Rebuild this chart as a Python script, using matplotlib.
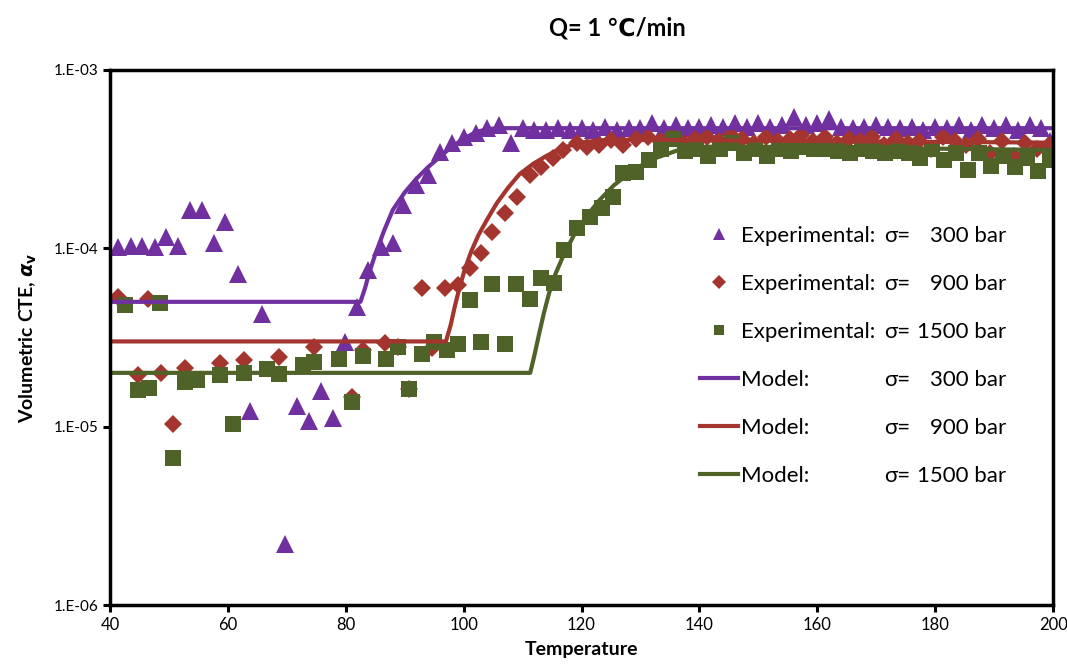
import matplotlib
matplotlib.use("Agg")
import matplotlib.pyplot as plt
from matplotlib.ticker import FixedLocator, FixedFormatter, NullLocator

plt.rcParams['font.family'] = ['Lato', 'DejaVu Sans']
plt.rcParams['mathtext.fontset'] = 'dejavusans'

# experimental, sigma = 300 bar
p_x = [41.4, 43.5, 45.5, 47.6, 49.6, 51.5, 53.6, 55.7, 57.6, 59.6, 61.7, 63.7, 65.8,
       69.7, 71.7, 73.7, 75.8, 77.8, 79.8, 81.9, 83.8, 86.0, 88.0, 89.8, 92.0, 94.0,
       96.0, 98.0, 100.1, 102.1,
       104, 106, 108, 110, 112, 114, 116, 118, 120, 122, 124, 126, 128, 130,
       132, 134, 136, 138, 140, 142, 144, 146, 148, 150, 152, 154, 156, 158, 160,
       162, 164, 166, 168, 170, 172, 174, 176, 178, 180, 182, 184, 186, 188, 190,
       192, 194, 196, 198, 199.5]
p_y = [1.01e-4, 1.03e-4, 1.03e-4, 1.01e-4, 1.15e-4, 1.03e-4, 1.63e-4, 1.63e-4, 1.07e-4,
       1.40e-4, 7.2e-5, 1.23e-5, 4.3e-5,
       2.2e-6, 1.31e-5, 1.07e-5, 1.59e-5, 1.11e-5, 2.96e-5, 4.7e-5, 7.5e-5, 1.01e-4,
       1.07e-4, 1.74e-4, 2.26e-4, 2.57e-4, 3.46e-4, 3.89e-4, 4.2e-4, 4.4e-4,
       4.7e-4, 4.9e-4, 3.9e-4, 4.7e-4, 4.6e-4, 4.6e-4, 4.7e-4, 4.6e-4,
       4.7e-4, 4.6e-4, 4.8e-4, 4.6e-4, 4.7e-4, 4.7e-4,
       5.0e-4, 4.7e-4, 4.9e-4, 4.7e-4, 4.8e-4, 4.9e-4, 4.8e-4, 5.0e-4, 4.8e-4, 5.0e-4,
       4.8e-4, 4.9e-4, 5.4e-4, 4.9e-4, 5.0e-4, 5.3e-4, 4.8e-4, 4.7e-4, 4.8e-4, 4.9e-4,
       4.8e-4, 4.7e-4, 4.8e-4, 4.6e-4, 4.8e-4, 4.7e-4, 4.9e-4, 4.6e-4, 4.9e-4, 4.7e-4,
       4.9e-4, 4.6e-4, 4.9e-4, 4.7e-4, 4.0e-4]

# experimental, sigma = 900 bar
r_x = [41.4, 44.7, 46.5, 48.6, 50.7, 52.7, 58.6, 62.7, 68.6, 74.7, 81.0, 82.9, 86.6,
       88.8, 90.8, 92.9, 94.7, 96.8, 99.0, 101.0, 103.0, 104.9, 107.0, 109.0, 111.2,
       113.2, 115.1, 116.8, 119.2, 121.0, 123.0, 125.0, 127.0, 129.3,
       131.3, 133.3, 135.3, 137.3, 139.3, 141.3, 143.3, 145.3, 147.3, 149.3, 151.3,
       153.3, 155.3, 157.3, 159.3, 161.3, 163.3, 165.3, 167.3, 169.3, 171.3, 173.3,
       175.3, 177.3, 179.3, 181.3, 183.3, 185.3, 187.3, 189.3, 191.3, 193.3, 195.3,
       197.3, 199.3]
r_y = [5.3e-5, 1.95e-5, 5.2e-5, 2.0e-5, 1.04e-5, 2.14e-5, 2.26e-5, 2.35e-5, 2.44e-5,
       2.78e-5, 1.46e-5, 2.7e-5, 2.93e-5, 2.78e-5, 1.63e-5, 6.0e-5, 2.75e-5, 6.0e-5,
       6.2e-5, 7.7e-5, 9.4e-5, 1.23e-4, 1.57e-4, 1.94e-4, 2.57e-4, 2.86e-4, 3.2e-4,
       3.55e-4, 3.9e-4, 3.7e-4, 3.8e-4, 4.05e-4, 3.8e-4, 4.1e-4,
       4.2e-4, 4.0e-4, 4.3e-4, 3.9e-4, 4.1e-4, 4.2e-4, 4.0e-4, 4.3e-4, 4.1e-4, 3.9e-4,
       4.2e-4, 4.0e-4, 4.1e-4, 4.3e-4, 4.0e-4, 4.2e-4, 3.9e-4, 4.1e-4, 4.0e-4, 4.2e-4,
       3.8e-4, 4.1e-4, 3.9e-4, 4.0e-4, 3.6e-4, 4.2e-4, 4.0e-4, 3.8e-4, 4.1e-4, 3.4e-4,
       4.0e-4, 3.3e-4, 3.9e-4, 3.6e-4, 3.8e-4]

# experimental, sigma = 1500 bar
g_x = [42.5, 44.7, 46.6, 48.5, 50.7, 52.7, 54.7, 58.6, 60.8, 62.7, 66.6, 68.6, 72.7,
       74.7, 78.8, 81.0, 82.9, 86.9, 88.8, 90.8, 93.0, 95.0, 97.1, 99.0, 101.0, 102.9,
       104.9, 107.0, 108.9, 111.2, 113.2, 115.4, 117.1, 119.2, 121.4, 123.4, 125.3,
       127.0, 129.3, 131.5,
       133.5, 135.5, 137.5, 139.5, 141.5, 143.5, 145.5, 147.5, 149.5, 151.5, 153.5,
       155.5, 157.5, 159.5, 161.5, 163.5, 165.5, 167.5, 169.5, 171.5, 173.5, 175.5,
       177.5, 179.5, 181.5, 183.5, 185.5, 187.5, 189.5, 191.5, 193.5, 195.5, 197.5,
       199.5]
g_y = [4.8e-5, 1.6e-5, 1.64e-5, 4.9e-5, 6.7e-6, 1.77e-5, 1.82e-5, 1.95e-5, 1.04e-5,
       2.0e-5, 2.1e-5, 1.97e-5, 2.2e-5, 2.3e-5, 2.4e-5, 1.37e-5, 2.5e-5, 2.4e-5, 2.8e-5,
       1.63e-5, 2.56e-5, 2.96e-5, 2.7e-5, 2.9e-5, 5.1e-5, 2.96e-5, 6.3e-5, 2.9e-5,
       6.3e-5, 5.2e-5, 6.8e-5, 6.4e-5, 9.7e-5, 1.3e-4, 1.5e-4, 1.67e-4, 1.94e-4,
       2.64e-4, 2.67e-4, 3.1e-4,
       3.6e-4, 4.1e-4, 3.5e-4, 3.6e-4, 3.3e-4, 3.6e-4, 3.9e-4, 3.4e-4, 3.6e-4, 3.3e-4,
       3.6e-4, 3.5e-4, 3.7e-4, 3.6e-4, 3.6e-4, 3.5e-4, 3.4e-4, 3.6e-4, 3.5e-4, 3.4e-4,
       3.5e-4, 3.4e-4, 3.2e-4, 3.6e-4, 3.1e-4, 3.4e-4, 2.75e-4, 3.4e-4, 2.9e-4, 3.3e-4,
       2.85e-4, 3.2e-4, 2.7e-4, 3.1e-4]

# model curves
m300_x = [40, 82.5, 83.3, 84.0, 85.0, 86.5, 88.0, 90.0, 92.0, 94.0, 96.0, 98.0, 100.0,
          102.0, 104.0, 106.0, 200]
m300_y = [5.0e-5, 5.0e-5, 6.0e-5, 7.3e-5, 9.2e-5, 1.25e-4, 1.64e-4, 2.05e-4, 2.45e-4,
          2.85e-4, 3.25e-4, 3.7e-4, 4.1e-4, 4.45e-4, 4.65e-4, 4.7e-4, 4.7e-4]
m900_x = [40, 97.0, 97.8, 98.5, 99.3, 100.2, 101.3, 102.5, 104, 105.6, 107.5, 109.5,
          111.8, 114, 116, 118, 120.5, 122.5, 125, 128, 200]
m900_y = [3.0e-5, 3.0e-5, 3.7e-5, 4.7e-5, 6.0e-5, 7.6e-5, 9.6e-5, 1.18e-4, 1.45e-4,
          1.78e-4, 2.17e-4, 2.6e-4, 2.97e-4, 3.28e-4, 3.55e-4, 3.75e-4, 3.92e-4, 4.0e-4,
          4.05e-4, 4.05e-4, 3.9e-4]
m1500_x = [40, 111.3, 112.0, 112.8, 113.6, 114.5, 115.6, 117, 118.7, 120.8, 123, 125.5,
           128.5, 132, 136.5, 141, 150, 200]
m1500_y = [2.0e-5, 2.0e-5, 2.5e-5, 3.3e-5, 4.3e-5, 5.6e-5, 7.2e-5, 9.2e-5, 1.18e-4,
           1.5e-4, 1.85e-4, 2.25e-4, 2.7e-4, 3.15e-4, 3.55e-4, 3.7e-4, 3.7e-4, 3.55e-4]

pressures = ['300', '900', '1500']
purple, red, green = '#7030A0', '#A3352E', '#4F6228'

y_ticks = [1e-6, 1e-5, 1e-4, 1e-3]
y_labels = ['1.E-06', '1.E-05', '1.E-04', '1.E-03']
x_ticks = [40, 60, 80, 100, 120, 140, 160, 180, 200]

fig = plt.figure(figsize=(10.67, 6.70), dpi=100)
ax = fig.add_axes([0.103, 0.097, 0.884, 0.799])

h1, = ax.plot(p_x, p_y, '^', color=purple, ms=12.5, mew=0, ls='none')
h2, = ax.plot(r_x, r_y, 'D', color=red, ms=9.5, mew=0, ls='none')
h3, = ax.plot(g_x, g_y, 's', color=green, ms=11, mew=0, ls='none')
h4, = ax.plot(m300_x, m300_y, '-', color=purple, lw=3)
h5, = ax.plot(m900_x, m900_y, '-', color=red, lw=3)
h6, = ax.plot(m1500_x, m1500_y, '-', color=green, lw=3)

ax.set_yscale('log')
ax.set_xlim(40, 200)
ax.set_ylim(1e-6, 1e-3)
ax.yaxis.set_major_locator(FixedLocator(y_ticks))
ax.yaxis.set_major_formatter(FixedFormatter(y_labels))
ax.yaxis.set_minor_locator(NullLocator())
ax.set_xticks(x_ticks)
ax.tick_params(axis='both', direction='out', length=5, width=2.2, labelsize=12, colors='black')
ax.tick_params(axis='y', labelsize=11)
for s in ax.spines.values():
    s.set_linewidth(2.5)

ax.set_xlabel('Temperature', fontsize=14, fontweight='bold', labelpad=6)
ax.set_ylabel(r'Volumetric CTE, $\boldsymbol{\alpha}_\mathbf{v}$', fontsize=14,
              fontweight='bold', labelpad=10)
fig.text(0.579, 0.958, 'Q= 1 \u2103/min', fontsize=17, fontweight='bold', ha='center', va='center')

# legend: marker + left part of the label, the sigma part is added as text below
leg = ax.legend([h1, h2, h3, h4, h5, h6],
                ['Experimental:'] * 3 + ['Model:'] * 3,
                loc='upper left', bbox_to_anchor=(700 / 1067, 1 - 226 / 670),
                bbox_transform=fig.transFigure, frameon=False, fontsize=16,
                handlelength=1.7, handletextpad=0.15, labelspacing=1.26,
                borderaxespad=0, borderpad=0, markerscale=0.7)

fig.canvas.draw()
texts = leg.get_texts()
right = max(t.get_window_extent().x1 for t in texts)
inv = fig.transFigure.inverted()
for t, p in zip(texts, pressures * 2):
    bx, by = t.get_transform().transform(t.get_position())
    x0, y0 = inv.transform((right + 9, by))
    x1, _ = inv.transform((right + 131, by))
    fig.text(x0, y0, '\u03c3=', fontsize=16, va='baseline', ha='left')
    fig.text(x1, y0, p + ' bar', fontsize=16, va='baseline', ha='right')

fig.savefig('out.png', dpi=100)
